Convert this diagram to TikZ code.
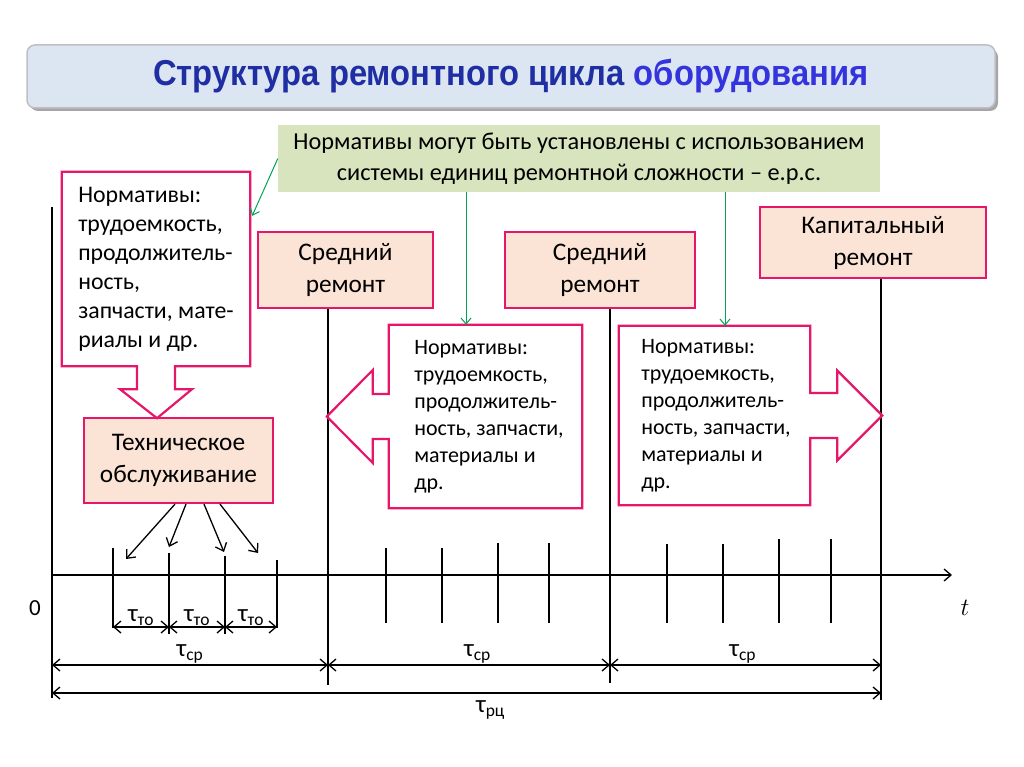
\documentclass[tikz,border=0pt]{standalone}
\usepackage{fontspec}
\setmainfont{Carlito}
\newfontfamily\titlefont[FakeStretch=0.91]{Liberation Sans}
\usetikzlibrary{arrows.meta,calc}

\definecolor{pinkline}{HTML}{E6176A}
\definecolor{peach}{HTML}{FBE3D5}
\definecolor{sage}{HTML}{D7E4BD}
\definecolor{titlefill}{HTML}{DCE6F2}
\definecolor{navy}{HTML}{1F2FA3}
\definecolor{brightblue}{HTML}{3434DD}
\definecolor{arrowgreen}{HTML}{00A552}

\tikzset{
  repbox/.style={draw=pinkline, line width=2.2pt, fill=peach, align=center,
    font=\fontsize{25.3}{32}\selectfont, inner sep=0pt},
  normtext/.style={align=left, inner sep=0pt, font=\fontsize{22}{27}\selectfont},
  blockarrow/.style={draw=pinkline, line width=2.2pt, line join=miter},
  barb/.tip={Straight Barb[length=7pt,width=12pt]},
  dimarrow/.style={barb-barb, line width=1.3pt},
  blackarrow/.style={-barb, line width=1.3pt},
  garrow/.style={-{Straight Barb[length=6pt,width=10pt]}, draw=arrowgreen, line width=1pt},
  tau/.style={font=\fontsize{25}{27}\selectfont, inner sep=1pt},
}

\begin{document}
\begin{tikzpicture}[x=1pt,y=-1pt]
  \useasboundingbox (0,0) rectangle (1024,767);

  % title
  \fill[gray!70, rounded corners=8pt] (30,49) rectangle (998,111);
  \node[draw=gray!50, line width=1.5pt, fill=titlefill, rounded corners=8pt,
    minimum width=968pt, minimum height=63pt,
    font=\titlefont\bfseries\fontsize{36}{40}\selectfont] (title) at (511,76.5)
    {\textcolor{navy}{Структура ремонтного цикла} \textcolor{brightblue}{оборудования}};

  \node[fill=sage, minimum width=602pt, minimum height=67pt, align=center,
    font=\fontsize{24.3}{31}\selectfont] (green) at (579,158.5)
    {Нормативы могут быть установлены с использованием\\
     системы единиц ремонтной сложности -- е.р.с.};

  % time points
  \coordinate (c0) at (52,575);
  \coordinate (c1) at (328,575);
  \coordinate (c2) at (610,575);
  \coordinate (c3) at (881,575);
  \coordinate (tend) at (952,575);

  % repair boxes
  \node[repbox, minimum width=189pt, minimum height=85pt] (tech) at (178.5,460.5)
    {Техническое\\обслуживание};
  \node[repbox, minimum width=175pt, minimum height=76pt] (sr1) at (345.5,270)
    {Средний\\ремонт};
  \node[repbox, minimum width=190pt, minimum height=76pt] (sr2) at (600,270)
    {Средний\\ремонт};
  \node[repbox, minimum width=226pt, minimum height=71pt] (kap) at (873,242.5)
    {Капитальный\\ремонт};

  % verticals and axis
  \draw[line width=1.3pt] ($(c0)+(0,-368)$) -- ($(c0)+(0,123)$);
  \draw[line width=1.3pt] (sr1.south -| c1) -- ($(c1)+(0,110)$);
  \draw[line width=1.3pt] (sr2.south -| c2) -- ($(c2)+(0,108)$);
  \draw[line width=1.3pt] (kap.south -| c3) -- ($(c3)+(0,125)$);
  \draw[blackarrow] (c0) -- (tend);

  % norm boxes
  \node[normtext, font=\fontsize{23.8}{29}\selectfont,
    minimum width=188pt, minimum height=194pt] (normL) at (156,269)
    {Нормативы:\\трудоемкость,\\продолжитель-\\ность,\\запчасти, мате-\\риалы и др.};
  \node[normtext, minimum width=193pt, minimum height=183pt] (normM) at (489,416.5)
    {Нормативы:\\трудоемкость,\\продолжитель-\\ность, запчасти,\\материалы и\\др.};
  \node[normtext, minimum width=191pt, minimum height=179pt] (normR) at (716,415.5)
    {Нормативы:\\трудоемкость,\\продолжитель-\\ность, запчасти,\\материалы и\\др.};

  \draw[blockarrow] (normL.north west) -- (normL.north east) -- (normL.south east)
    -- ($(normL.south)+(19,0)$) -- ($(normL.south)+(19,23)$) -- ($(normL.south)+(36,23)$)
    -- ($(normL.south)+(1,52)$) -- ($(normL.south)+(-36,23)$) -- ($(normL.south)+(-19,23)$)
    -- ($(normL.south)+(-19,0)$) -- (normL.south west) -- cycle;
  \draw[blockarrow] ($(normM.north west)+(-3.5,0)$) -- ($(normM.north east)+(-3.5,0)$)
    -- ($(normM.south east)+(-3.5,0)$) -- ($(normM.south west)+(-3.5,0)$)
    -- ($(normM.west)+(-3.5,22.5)$) -- ($(normM.west)+(-19.5,22.5)$)
    -- ($(normM.west)+(-19.5,46.5)$) -- ($(normM.west)+(-65.5,0)$) -- ($(normM.west)+(-19.5,-46.5)$)
    -- ($(normM.west)+(-19.5,-22.5)$) -- ($(normM.west)+(-3.5,-22.5)$) -- cycle;
  \draw[blockarrow] ($(normR.north east)+(-1.5,0)$) -- ($(normR.north west)+(-1.5,0)$)
    -- ($(normR.south west)+(-1.5,0)$) -- ($(normR.south east)+(-1.5,0)$)
    -- ($(normR.east)+(-1.5,22.5)$) -- ($(normR.east)+(25.5,22.5)$)
    -- ($(normR.east)+(25.5,45)$) -- ($(normR.east)+(70.5,0)$) -- ($(normR.east)+(25.5,-45)$)
    -- ($(normR.east)+(25.5,-22.5)$) -- ($(normR.east)+(-1.5,-22.5)$) -- cycle;

  % green connectors
  \coordinate (g1) at (466,0);
  \coordinate (g2) at (725,0);
  \draw[garrow] (green.west) -- ($(normL.north east)+(2,44)$);
  \draw[garrow] (green.south -| g1) -- (normM.north -| g1);
  \draw[garrow] (green.south -| g2) -- (normR.north -| g2);

  % ticks
  \foreach \x/\top/\bot in {113/548/628, 169/553/634, 225/556/634, 277/560/628,
      386/548/623, 442/548/623, 498/543/623, 549/543/623,
      667/544/623, 723/544/623, 779/539/623, 831/539/623}
    \draw[line width=1.3pt] (\x,\top) -- (\x,\bot);

  % maintenance arrows
  \draw[blackarrow] ($(tech.south)+(-3.5,0)$) -- (126,559);
  \draw[blackarrow] ($(tech.south)+(7.5,0)$) -- (169,547);
  \draw[blackarrow] ($(tech.south)+(25.5,0)$) -- (224,552);
  \draw[blackarrow] ($(tech.south)+(41.5,0)$) -- (258,553);

  % dimensions
  \coordinate (k1) at (113,627);
  \coordinate (k2) at (169,627);
  \coordinate (k3) at (225,627);
  \coordinate (k4) at (277,627);
  \draw[dimarrow] (k1) -- (k2) node[tau, midway, above] {τ\textsubscript{то}};
  \draw[dimarrow] (k2) -- (k3) node[tau, midway, above] {τ\textsubscript{то}};
  \draw[dimarrow] (k3) -- (k4) node[tau, midway, above] {τ\textsubscript{то}};

  \draw[dimarrow] ($(c0)+(0,90)$) -- ($(c1)+(0,90)$) node[tau, pos=0.5, above] {τ\textsubscript{ср}};
  \draw[dimarrow] ($(c1)+(0,90)$) -- ($(c2)+(0,90)$) node[tau, pos=0.53, above] {τ\textsubscript{ср}};
  \draw[dimarrow] ($(c2)+(0,90)$) -- ($(c3)+(0,90)$) node[tau, pos=0.49, above] {τ\textsubscript{ср}};
  \draw[dimarrow] ($(c0)+(0,118)$) -- ($(c3)+(0,118)$) node[tau, pos=0.529, below=6pt] {τ\textsubscript{рц}};

  \node[font=\fontsize{23}{25}\selectfont] (zero) at (35,608) {0};
  \node[font=\fontsize{27}{29}\selectfont] (tlabel) at (965,608) {$t$};
\end{tikzpicture}
\end{document}
